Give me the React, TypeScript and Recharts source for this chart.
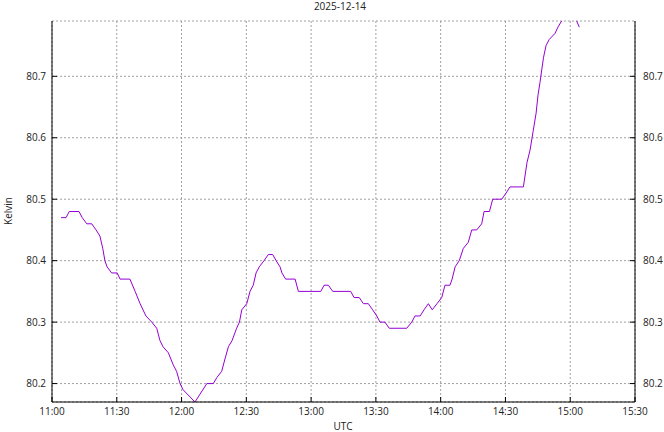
import React from 'react';
import { LineChart, Line, XAxis, YAxis, CartesianGrid } from 'recharts';

// minutes after 11:00 UTC
const minuteOffsets = [
  4.2, 6.5, 8.0, 12.5, 14.0, 16.1, 18.4, 20.4, 22.2, 23.5, 24.5, 25.5, 27.6, 30.2, 31.5, 36.1,
  38.5, 40.8, 43.5, 46.2, 48.5, 50.0, 51.4, 53.9, 56.2, 57.7, 59.3, 60.7, 66.2, 71.7, 74.7,
  76.4, 78.6, 80.1, 81.7, 83.4, 85.5, 86.8, 87.9, 90.2, 91.7, 93.2, 94.5, 96.0, 98.2, 100.2,
  102.2, 103.8, 105.6, 106.5, 108.2, 112.6, 114.1, 124.5, 126.0, 128.0, 130.0, 138.3, 139.9,
  142.3, 144.2, 146.5, 148.5, 150.4, 151.9, 154.2, 156.2, 164.3, 166.6, 168.1, 170.5, 172.3,
  174.3, 176.1, 178.3, 180.5, 182.0, 184.3, 185.3, 186.7, 188.6, 190.5, 192.8, 194.4, 196.7,
  199.0, 200.1, 202.6, 204.1, 208.3, 210.3, 212.1, 218.3, 220.0, 221.4, 222.8, 224.2, 225.1,
  226.0, 227.6, 228.8, 230.3, 233.0, 234.3, 236.0, 239.4, 243.0, 244.2,
];

const kelvin = [
  80.47, 80.47, 80.48, 80.48, 80.47, 80.46, 80.46, 80.45, 80.44, 80.42, 80.40, 80.39, 80.38, 80.38, 80.37, 80.37,
  80.35, 80.33, 80.31, 80.30, 80.29, 80.27, 80.26, 80.25, 80.23, 80.22, 80.20, 80.19, 80.17, 80.20, 80.20,
  80.21, 80.22, 80.24, 80.26, 80.27, 80.29, 80.30, 80.32, 80.33, 80.35, 80.36, 80.38, 80.39, 80.40, 80.41,
  80.41, 80.40, 80.39, 80.38, 80.37, 80.37, 80.35, 80.35, 80.36, 80.36, 80.35, 80.35, 80.34,
  80.34, 80.33, 80.33, 80.32, 80.31, 80.30, 80.30, 80.29, 80.29, 80.30, 80.31, 80.31, 80.32,
  80.33, 80.32, 80.33, 80.34, 80.36, 80.36, 80.37, 80.39, 80.40, 80.42, 80.43, 80.45, 80.45,
  80.46, 80.48, 80.48, 80.50, 80.50, 80.51, 80.52, 80.52, 80.56, 80.58, 80.61, 80.64, 80.67,
  80.69, 80.73, 80.75, 80.76, 80.77, 80.78, 80.79, 80.80, 80.79, 80.78,
];

const timeTicks = ['11:00', '11:30', '12:00', '12:30', '13:00', '13:30', '14:00', '14:30', '15:00', '15:30'];
const kelvinTicks = [80.2, 80.3, 80.4, 80.5, 80.6, 80.7];

const START = 11 * 60;
const toMinutes = (s: string) => {
  const [h, m] = s.split(':').map(Number);
  return h * 60 + m;
};
const fmtTime = (v: number) => {
  const h = Math.floor(v / 60);
  const m = Math.round(v % 60);
  return `${h}:${m < 10 ? '0' : ''}${m}`;
};

const data = minuteOffsets.map((m, i) => ({ t: START + m, k: kelvin[i] }));
const xTicks = timeTicks.map(toMinutes);
const yDomain = [80.17, 80.79];

const FONT = "'Open Sans', 'Noto Sans', sans-serif";
const tickStyle = { fontSize: 10, fill: '#222', fontFamily: FONT };

export default function App() {
  return (
    <div style={{ position: 'absolute', left: 0, top: 0, width: 664, height: 432, background: '#fff' }}>
      <LineChart width={664} height={432} data={data} margin={{ top: 21, right: 0, bottom: 0, left: 0 }}>
        <CartesianGrid stroke="#a0a0a0" strokeDasharray="2 2" />
        <XAxis
          dataKey="t"
          type="number"
          domain={[xTicks[0], xTicks[xTicks.length - 1]]}
          ticks={xTicks}
          tickFormatter={fmtTime}
          height={30}
          axisLine={{ stroke: '#000' }}
          tickLine={{ stroke: '#000' }}
          tickSize={-5}
          tickMargin={11}
          tick={tickStyle}
          interval={0}
        />
        <XAxis
          xAxisId="top"
          orientation="top"
          type="number"
          domain={[xTicks[0], xTicks[xTicks.length - 1]]}
          ticks={xTicks}
          tickFormatter={() => ''}
          height={0}
          axisLine={{ stroke: '#000' }}
          tickLine={{ stroke: '#000' }}
          tickSize={-5}
          interval={0}
        />
        <YAxis
          type="number"
          domain={yDomain}
          allowDataOverflow
          ticks={kelvinTicks}
          tickFormatter={(v: number) => v.toFixed(1)}
          width={52}
          axisLine={{ stroke: '#000' }}
          tickLine={{ stroke: '#000' }}
          tickSize={-5}
          tickMargin={11}
          tick={tickStyle}
          interval={0}
        />
        <YAxis
          yAxisId="right"
          orientation="right"
          type="number"
          domain={yDomain}
          allowDataOverflow
          ticks={kelvinTicks}
          tickFormatter={(v: number) => v.toFixed(1)}
          width={29}
          axisLine={{ stroke: '#000' }}
          tickLine={{ stroke: '#000' }}
          tickSize={-5}
          tickMargin={13}
          tick={tickStyle}
          interval={0}
        />
        <Line
          dataKey="k"
          type="linear"
          stroke="#9400d3"
          strokeWidth={1}
          dot={false}
          isAnimationActive={false}
        />
      </LineChart>
      <svg
        width={664}
        height={432}
        style={{ position: 'absolute', left: 0, top: 0, pointerEvents: 'none' }}
      >
        <text x={340} y={10} textAnchor="middle" fontSize={10} fill="#222" fontFamily={FONT}>
          2025-12-14
        </text>
        <text x={343} y={430} textAnchor="middle" fontSize={10} fill="#222" fontFamily={FONT}>
          UTC
        </text>
        <text
          x={11.5}
          y={211}
          textAnchor="middle"
          fontSize={10}
          fill="#222"
          fontFamily={FONT}
          transform="rotate(-90 11.5 211)"
        >
          Kelvin
        </text>
      </svg>
    </div>
  );
}
